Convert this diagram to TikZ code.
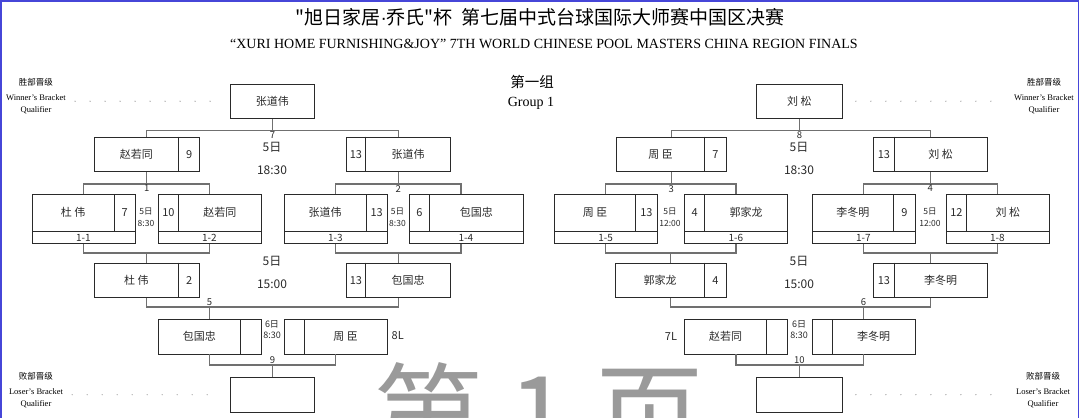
\documentclass[tikz,border=0pt]{standalone}
\usepackage{fontspec}
\setmainfont{Liberation Serif}
\newfontfamily\cjk{Noto Sans CJK SC}
\newfontfamily\latin{Liberation Sans}
\definecolor{Ink}{HTML}{2A2A2A}
\definecolor{Wire}{HTML}{707070}
\definecolor{Frame}{HTML}{4646D8}
\definecolor{Mark}{HTML}{9A9A9A}

\begin{document}
\begin{tikzpicture}[
    x=1pt, y=-1pt,
    cell/.style={draw=Ink, line width=0.9pt, anchor=north west, inner sep=0pt, minimum height=34.5pt, font=\cjk\fontsize{11}{13}\selectfont, text=Ink},
    seed/.style={cell, minimum height=36.5pt},
    tag/.style={cell, minimum height=11.5pt, font=\cjk\fontsize{10}{11}\selectfont},
    div/.style={draw=Ink, line width=0.9pt},
    link/.style={draw=Wire, line width=1.2pt},
    leader/.style={draw=Wire, line width=1.1pt, line cap=round, dash pattern=on 0pt off 15pt},
    mnum/.style={font=\cjk\fontsize{9.5}{10}\selectfont, inner sep=1pt, text=Ink},
    when/.style={font=\cjk\fontsize{12}{23}\selectfont, align=center, text=Ink},
    whensm/.style={font=\cjk\fontsize{8.5}{12}\selectfont, align=center, inner sep=0pt, text=Ink},
    side/.style={font=\fontsize{8.5}{12}\selectfont, align=center, inner sep=1pt}
]
\useasboundingbox (0,0) rectangle (1080,418);
\node[font=\cjk\fontsize{110}{110}\selectfont, text=Mark, anchor=base] (wm) at (539,455) {第 1 页};
\draw[Frame, line width=1.3pt] (1,418) -- (1,1) -- (1078.5,1) -- (1078.5,418);

% Heading
\node[font=\cjk\fontsize{19}{24}\selectfont] (title) at (540,17) {"旭日家居{\latin·}乔氏"杯\ \ 第七届中式台球国际大师赛中国区决赛};
\node[font=\fontsize{14}{16}\selectfont] (subtitle) at (544,44) {“XURI HOME FURNISHING\&JOY" 7TH WORLD CHINESE POOL MASTERS CHINA REGION FINALS};
\node[font=\cjk\fontsize{14.5}{16}\selectfont] (grpcn) at (532,82) {第一组};
\node[font=\fontsize{14}{16}\selectfont] (grpen) at (531,103) {Group 1};

% Qualifiers
\node[side] (wqL) at (36,96.5) {{\cjk 胜部晋级}\\[3pt]Winner's Bracket\\Qualifier};
\node[side] (wqR) at (1044,96.5) {{\cjk 胜部晋级}\\[3pt]Winner's Bracket\\Qualifier};
\node[side] (lqL) at (36,390) {{\cjk 败部晋级}\\[3pt]Loser's Bracket\\Qualifier};
\node[side] (lqR) at (1043,390) {{\cjk 败部晋级}\\[3pt]Loser's Bracket\\Qualifier};
\node[cell, minimum width=84pt] (wL) at (230,83.5) {张道伟};
\node[cell, minimum width=86pt] (wR) at (756,83.5) {刘 松};
\node[cell, minimum width=84pt] (bL) at (230,377) {};
\node[cell, minimum width=86pt] (bR) at (756,377) {};
\coordinate (dL) at (wqL.east |- wL.west);
\coordinate (dR) at (wqR.west |- wR.east);
\coordinate (eL) at (lqL.east |- bL.west);
\coordinate (eR) at (lqR.west |- bR.east);
\draw[leader] ([xshift=8pt]dL) -- ([xshift=-18pt]wL.west);
\draw[leader] ([xshift=13pt]wR.east) -- ([xshift=-12pt]dR);
\draw[leader] ([xshift=8pt]eL) -- ([xshift=-18pt]bL.west);
\draw[leader] ([xshift=13pt]bR.east) -- ([xshift=-12pt]eR);

% Row 2
\node[cell, minimum width=105.5pt] (q1) at (93.5,136.5) {\makebox[85pt]{赵若同}\makebox[20.5pt]{9}};
\draw[div] ([xshift=85pt]q1.north west) -- ([xshift=85pt]q1.south west);
\node[cell, minimum width=104.5pt] (q2) at (345.5,136.5) {\makebox[20pt]{13}\makebox[84.5pt]{张道伟}};
\draw[div] ([xshift=20pt]q2.north west) -- ([xshift=20pt]q2.south west);
\node[cell, minimum width=109.5pt] (q3) at (616,136.5) {\makebox[88.5pt]{周 臣}\makebox[21pt]{7}};
\draw[div] ([xshift=88.5pt]q3.north west) -- ([xshift=88.5pt]q3.south west);
\node[cell, minimum width=113.5pt] (q4) at (873,136.5) {\makebox[21pt]{13}\makebox[92.5pt]{刘 松}};
\draw[div] ([xshift=21pt]q4.north west) -- ([xshift=21pt]q4.south west);
\node[when] at (272,158) {5日\\18:30};
\node[when] at (799,158) {5日\\18:30};

% Row 3
\node[seed, minimum width=103pt] (r1) at (31.5,194) {\makebox[82.5pt]{杜 伟}\makebox[20.5pt]{7}};
\draw[div] ([xshift=82.5pt]r1.north west) -- ([xshift=82.5pt]r1.south west);
\node[tag, minimum width=103pt] (t1) at (r1.south west) {1-1};
\node[seed, minimum width=103pt] (r2) at (157.5,194) {\makebox[21pt]{10}\makebox[82pt]{赵若同}};
\draw[div] ([xshift=21pt]r2.north west) -- ([xshift=21pt]r2.south west);
\node[tag, minimum width=103pt] (t2) at (r2.south west) {1-2};
\node[seed, minimum width=103pt] (r3) at (283.5,194) {\makebox[82.5pt]{张道伟}\makebox[20.5pt]{13}};
\draw[div] ([xshift=82.5pt]r3.north west) -- ([xshift=82.5pt]r3.south west);
\node[tag, minimum width=103pt] (t3) at (r3.south west) {1-3};
\node[seed, minimum width=114pt] (r4) at (408.5,194) {\makebox[21pt]{6}\makebox[93pt]{包国忠}};
\draw[div] ([xshift=21pt]r4.north west) -- ([xshift=21pt]r4.south west);
\node[tag, minimum width=114pt] (t4) at (r4.south west) {1-4};
\node[seed, minimum width=102.5pt] (r5) at (554,194) {\makebox[81.5pt]{周 臣}\makebox[21pt]{13}};
\draw[div] ([xshift=81.5pt]r5.north west) -- ([xshift=81.5pt]r5.south west);
\node[tag, minimum width=102.5pt] (t5) at (r5.south west) {1-5};
\node[seed, minimum width=103pt] (r6) at (684,194) {\makebox[20.5pt]{4}\makebox[82.5pt]{郭家龙}};
\draw[div] ([xshift=20.5pt]r6.north west) -- ([xshift=20.5pt]r6.south west);
\node[tag, minimum width=103pt] (t6) at (r6.south west) {1-6};
\node[seed, minimum width=103pt] (r7) at (811.5,194) {\makebox[82pt]{李冬明}\makebox[21pt]{9}};
\draw[div] ([xshift=82pt]r7.north west) -- ([xshift=82pt]r7.south west);
\node[tag, minimum width=103pt] (t7) at (r7.south west) {1-7};
\node[seed, minimum width=103pt] (r8) at (945.5,194) {\makebox[21pt]{12}\makebox[82pt]{刘 松}};
\draw[div] ([xshift=21pt]r8.north west) -- ([xshift=21pt]r8.south west);
\node[tag, minimum width=103pt] (t8) at (r8.south west) {1-8};
\node[whensm] at (146,217.7) {5日\\8:30};
\node[whensm] at (397.5,217.7) {5日\\8:30};
\node[whensm] at (670,217.7) {5日\\12:00};
\node[whensm] at (930,217.7) {5日\\12:00};

% Row 4
\node[cell, minimum width=105.5pt] (l1) at (93.5,262.5) {\makebox[85pt]{杜 伟}\makebox[20.5pt]{2}};
\draw[div] ([xshift=85pt]l1.north west) -- ([xshift=85pt]l1.south west);
\node[cell, minimum width=104.5pt] (l2) at (345.5,262.5) {\makebox[20pt]{13}\makebox[84.5pt]{包国忠}};
\draw[div] ([xshift=20pt]l2.north west) -- ([xshift=20pt]l2.south west);
\node[cell, minimum width=110.5pt] (l3) at (615,262.5) {\makebox[89.5pt]{郭家龙}\makebox[21pt]{4}};
\draw[div] ([xshift=89.5pt]l3.north west) -- ([xshift=89.5pt]l3.south west);
\node[cell, minimum width=113.5pt] (l4) at (873,262.5) {\makebox[21pt]{13}\makebox[92.5pt]{李冬明}};
\draw[div] ([xshift=21pt]l4.north west) -- ([xshift=21pt]l4.south west);
\node[when] at (272,272) {5日\\15:00};
\node[when] at (799,272) {5日\\15:00};

% Row 5
\node[cell, minimum width=103pt] (s1) at (157.5,319) {\makebox[83pt]{包国忠}\makebox[20pt]{}};
\draw[div] ([xshift=83pt]s1.north west) -- ([xshift=83pt]s1.south west);
\node[cell, minimum width=103pt] (s2) at (283.5,319) {\makebox[20.5pt]{}\makebox[82.5pt]{周 臣}};
\draw[div] ([xshift=20.5pt]s2.north west) -- ([xshift=20.5pt]s2.south west);
\node[cell, minimum width=103pt] (s3) at (684,319) {\makebox[82.5pt]{赵若同}\makebox[20.5pt]{}};
\draw[div] ([xshift=82.5pt]s3.north west) -- ([xshift=82.5pt]s3.south west);
\node[cell, minimum width=103pt] (s4) at (811.5,319) {\makebox[20.5pt]{}\makebox[82.5pt]{李冬明}};
\draw[div] ([xshift=20.5pt]s4.north west) -- ([xshift=20.5pt]s4.south west);
\node[whensm, font=\cjk\fontsize{9}{11.5}\selectfont] at (272,329.7) {6日\\8:30};
\node[whensm, font=\cjk\fontsize{9}{11.5}\selectfont] at (799,329.7) {6日\\8:30};
\node[mnum, font=\cjk\fontsize{11}{12}\selectfont] at (397.7,336) {8L};
\node[mnum, font=\cjk\fontsize{11}{12}\selectfont] at (671,336) {7L};

% Brackets
\coordinate (j7) at ([yshift=-11.5pt]wL.south);
\coordinate (j8) at ([yshift=-11.5pt]wR.south);
\draw[link] (wL.south) -- (j7);
\draw[link] (q1.north) |- (j7) -| (q2.north);
\node[mnum, anchor=north] at (j7) {7};
\draw[link] (wR.south) -- (j8);
\draw[link] (q3.north) |- (j8) -| (q4.north);
\node[mnum, anchor=north] at (j8) {8};

\coordinate (j1) at ([yshift=-12pt]q1.south);
\coordinate (j2) at ([yshift=-12pt]q2.south);
\coordinate (j3) at ([yshift=-12pt]q3.south);
\coordinate (j4) at ([yshift=-12pt]q4.south);
\draw[link] (q1.south) -- (j1);
\draw[link] (r1.north) |- (j1) -| (r2.north);
\node[mnum, anchor=north] at (j1) {1};
\draw[link] (q2.south) -- (j2);
\draw[link] (r3.north) |- (j2) -| ([xshift=-5pt]r4.north);
\node[mnum, anchor=north] at (j2) {2};
\draw[link] (q3.south) -- (j3);
\draw[link] (r5.north) |- (j3) -| (r6.north);
\node[mnum, anchor=north] at (j3) {3};
\draw[link] (q4.south) -- (j4);
\draw[link] (r7.north) |- (j4) -| (r8.north);
\node[mnum, anchor=north] at (j4) {4};

\coordinate (k1) at ([yshift=9.5pt]l1.north);
\coordinate (k2) at ([yshift=9.5pt]l2.north);
\coordinate (k3) at ([yshift=9.5pt]l3.north);
\coordinate (k4) at ([yshift=9.5pt]l4.north);
\draw[link] (t1.south) |- (k1) -| (t2.south);
\draw[link] (k1) -- (l1.north);
\draw[link] (t3.south) |- (k2) -| ([xshift=-5pt]t4.south);
\draw[link] (k2) -- (l2.north);
\draw[link] (t5.south) |- (k3) -| (t6.south);
\draw[link] (k3) -- (l3.north);
\draw[link] (t7.south) |- (k4) -| (t8.south);
\draw[link] (k4) -- (l4.north);

\coordinate (j5) at ([yshift=12pt]s1.north);
\coordinate (j6) at ([yshift=12pt]s4.north);
\draw[link] (l1.south) |- (j5) -| (l2.south);
\draw[link] (j5) -- (s1.north);
\node[mnum, anchor=south] at (j5) {5};
\draw[link] (l3.south) |- (j6) -| (l4.south);
\draw[link] (j6) -- (s4.north);
\node[mnum, anchor=south] at (j6) {6};

\coordinate (j9) at ([yshift=12pt]bL.north);
\coordinate (j10) at ([yshift=12pt]bR.north);
\draw[link] (s1.south) |- (j9) -| (s2.south);
\draw[link] (j9) -- (bL.north);
\node[mnum, anchor=south] at (j9) {9};
\draw[link] (s3.south) |- (j10) -| (s4.south);
\draw[link] (j10) -- (bR.north);
\node[mnum, anchor=south] at (j10) {10};
\end{tikzpicture}
\end{document}
